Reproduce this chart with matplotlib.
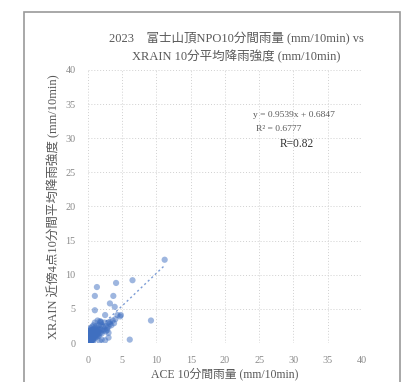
import numpy as np
import matplotlib.pyplot as plt
from matplotlib.patches import Rectangle

# 10-minute rainfall pairs (ACE gauge vs XRAIN mean of 4 cells)
ace_rain = [
    0, 0, 0, 0, 0, 0, 0, 0, 0, 0, 0, 0, 0,
    0.1, 0.1, 0.1, 0.1, 0.1, 0.1, 0.1, 0.1,
    0.2, 0.2, 0.2, 0.2, 0.2, 0.2, 0.2, 0.2,
    0.3, 0.3, 0.3, 0.3, 0.3, 0.3, 0.3,
    0.4, 0.4, 0.4, 0.4, 0.4, 0.4,
    0.5, 0.5, 0.5, 0.5, 0.5, 0.5,
    0.6, 0.6, 0.6, 0.6, 0.6,
    0.7, 0.7, 0.7, 0.7,
    0.8, 0.8, 0.8, 0.8, 0.8,
    0.9, 0.9, 0.9,
    1.0, 1.0, 1.0, 1.0, 1.0,
    1.1, 1.1, 1.1,
    1.2, 1.2, 1.2,
    1.3, 1.3,
    1.4, 1.4, 1.4, 1.4,
    1.5, 1.5,
    1.6, 1.6, 1.6,
    1.8, 1.8, 1.8,
    2.0, 2.0, 2.0,
    2.2, 2.2,
    2.4, 2.4,
    2.6, 2.6,
    2.8, 2.8,
    3.0, 3.0, 3.0,
    3.2, 3.2,
    3.4, 3.6, 4.0, 4.3, 4.7, 4.8, 3.8,
    2.5, 3.0, 2.0, 1.7,
    1.0, 3.7, 3.2, 3.9, 1.0, 2.5, 1.9, 9.2, 6.1, 1.3, 4.1, 6.5, 11.2, 1.75,
]
xrain_rain = [
    0, 0, 0, 0.1, 0.2, 0.3, 0.5, 0.7, 1.0, 1.2, 0.4, 0.8, 1.5,
    0, 0.2, 0.4, 0.6, 0.9, 1.3, 1.7, 0.3,
    0.1, 0.3, 0.5, 0.8, 1.1, 1.4, 2.0, 0,
    0.2, 0.4, 0.7, 1.0, 1.3, 1.8, 0,
    0.1, 0.5, 0.9, 1.2, 1.6, 2.2,
    0.3, 0.6, 1.0, 1.4, 1.9, 0.1,
    0.4, 0.8, 1.2, 1.7, 2.4,
    0.5, 1.0, 1.5, 2.0,
    0.6, 1.1, 1.6, 2.6, 0.3,
    0.8, 1.3, 1.9,
    0.7, 1.2, 1.7, 2.2, 3.0,
    1.0, 1.5, 2.0,
    0.9, 1.4, 2.5,
    1.2, 1.8,
    1.0, 1.6, 2.2, 3.3,
    1.3, 2.0,
    1.1, 1.7, 2.6,
    1.5, 2.1, 3.0,
    1.4, 1.9, 2.7,
    1.8, 2.4,
    2.0, 3.0,
    1.7, 2.5,
    2.2, 1.9,
    2.4, 3.0, 1.5,
    2.8, 3.1,
    2.6, 3.3, 3.5, 4.1, 3.9, 4.1, 2.9,
    0.4, 0.8, 0.5, 0.3,
    6.9, 6.9, 5.8, 5.3, 4.8, 4.1, 3.1, 3.3, 0.5, 8.2, 8.8, 9.2, 12.2, 3.2,
]

slope = 0.9539
intercept = 0.6847
trend_x = [0, 11.2]
ticks = [0, 5, 10, 15, 20, 25, 30, 35, 40]

title_text = "2023\u3000富士山頂NPO10分間雨量 (mm/10min) vs\nXRAIN 10分平均降雨強度 (mm/10min)"
xlabel_text = "ACE 10分間雨量 (mm/10min)"
ylabel_text = "XRAIN 近傍4点10分間平均降雨強度 (mm/10min)"

fonts = ['Liberation Serif', 'Noto Sans CJK JP']
gray = '#595959'

fig = plt.figure(figsize=(4.05, 3.82), dpi=100)
ax = fig.add_axes([0.2173, 0.102, 0.676, 0.715])

ax.scatter(ace_rain, xrain_rain, s=20, color='#3f6fc0', alpha=0.5,
           edgecolors='none', zorder=3)

tx = np.array(trend_x)
ax.plot(tx, slope * tx + intercept, ls=(0, (1.5, 2)), lw=1, color='#4472C4',
        alpha=0.7, zorder=2)

ax.set_xlim(0, 40)
ax.set_ylim(0, 40)
ax.set_xticks(ticks)
ax.set_yticks(ticks)
ax.grid(True, ls=(0, (1, 2)), lw=0.7, color='#d0d0d0')
for s in ax.spines.values():
    s.set_visible(False)
ax.tick_params(length=0, labelsize=7.3, labelcolor='#8a8a8a', pad=9)
for lab in ax.get_xticklabels() + ax.get_yticklabels():
    lab.set_family(fonts)

ax.set_xlabel(xlabel_text, family=fonts, fontsize=8.5, color=gray, labelpad=2)
ax.set_ylabel(ylabel_text, family=fonts, fontsize=9, color=gray, labelpad=4)

fig.text(0.583, 0.875, title_text, ha='center', va='center', family=fonts,
         fontsize=9, color=gray, linespacing=1.45)

ax.text(36.0, 33.4, "y = 0.9539x + 0.6847", ha='right', va='center',
        family=fonts, fontsize=6.8, color=gray)
ax.text(31.2, 31.4, "R\u00b2 = 0.6777", ha='right', va='center',
        family=fonts, fontsize=6.8, color=gray)
ax.text(28.0, 29.2, "R=0.82", ha='left', va='center',
        family=fonts, fontsize=8.3, color='#333333')

fig.patches.append(Rectangle((23.5 / 405, -0.02), (400 - 23.5) / 405,
                             1 - 12 / 382 + 0.02, transform=fig.transFigure,
                             fill=False, edgecolor='#9a9a9a', lw=1.2))

fig.savefig('out.png', dpi=100, facecolor='white')
